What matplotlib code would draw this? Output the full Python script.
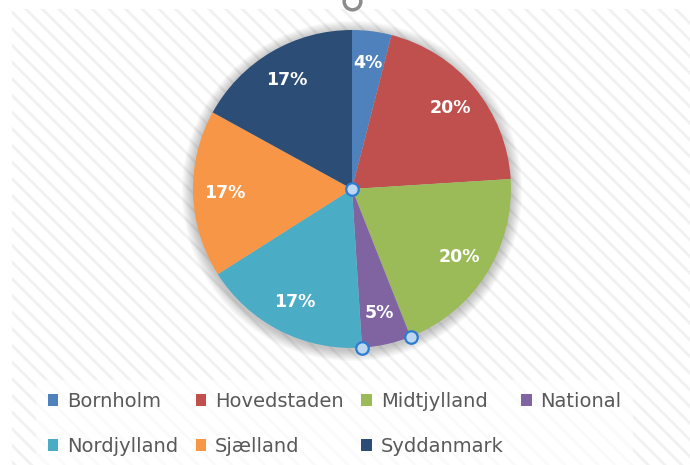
import matplotlib
matplotlib.use('Agg')
import matplotlib.pyplot as plt
from matplotlib.patches import Rectangle, Circle
import numpy as np

regions = ['Bornholm', 'Hovedstaden', 'Midtjylland', 'National',
           'Nordjylland', 'Sjælland', 'Syddanmark']
shares = [4, 20, 20, 5, 17, 17, 17]
colors = ['#4F81BD', '#C0504D', '#9BBB59', '#8064A2',
          '#4BACC6', '#F79646', '#2C4D75']

plt.rcParams['font.family'] = ['DejaVu Sans']
plt.rcParams['hatch.linewidth'] = 2.0

W, H = 690, 465
fig = plt.figure(figsize=(W / 100, H / 100), dpi=100)
fig.patch.set_facecolor('white')

# chart-area background with diagonal stripes
fig.patches.append(Rectangle((12 / W, 0), 1 - 12 / W, 1 - 9 / H,
                             transform=fig.transFigure, facecolor='white',
                             edgecolor='#F1F1F1', hatch='\\\\', lw=0, zorder=-5))

# pie axes: center (352,189) px, radius 159 px
cx, cy, R = 352, 189, 159
ax = fig.add_axes([(cx - R) / W, (H - cy - R) / H, 2 * R / W, 2 * R / H])
ax.set_zorder(1)

# soft shadow
for i in range(10):
    ax.add_patch(Circle((0.0, -0.012), 1.0 + 0.007 * (i + 1), facecolor='#000000',
                        alpha=0.025, lw=0, clip_on=False, zorder=0))

wedges, texts, autotexts = ax.pie(
    shares, colors=colors, startangle=90, counterclock=False,
    autopct=lambda p: f'{p:.0f}%', pctdistance=0.8,
    wedgeprops=dict(linewidth=0),
    textprops=dict(color='white', fontsize=12.5, fontweight='bold'))
for w in wedges:
    w.set_zorder(2)
for t in autotexts:
    t.set_zorder(3)
ax.set_xlim(-1, 1)
ax.set_ylim(-1, 1)
ax.set_aspect('equal')
ax.axis('off')

# selection handles (center and arc ends of the National slice)
cum = np.cumsum([0] + shares)
k = regions.index('National')
angs = np.deg2rad(90 - 360 * cum[[k, k + 1]] / cum[-1])
hx = np.concatenate([[0.0], np.cos(angs)])
hy = np.concatenate([[0.0], np.sin(angs)])
ax.plot(hx, hy, ls='none', marker='o', ms=9, mfc='#BDD7EE', mec='#2E7BD3',
        mew=1.6, clip_on=False, zorder=5)
# rotate handle at top
ax.plot([0], [(cy - 1) / R], ls='none', marker='o', ms=12, mfc='white',
        mec='#8C8C8C', mew=2.5, clip_on=False, zorder=5)

# legend in row-major order over 4 columns
order = [0, 4, 1, 5, 2, 6, 3]
leg = fig.legend([wedges[i] for i in order], [regions[i] for i in order],
                 ncol=4, loc='upper left', bbox_to_anchor=(36 / W, 1 - 380 / H),
                 bbox_transform=fig.transFigure, frameon=True, fontsize=14,
                 handlelength=0.55, handleheight=0.55, handletextpad=0.45,
                 columnspacing=0.9, labelspacing=1.35, borderpad=0.6,
                 borderaxespad=0)
leg.set_zorder(2)
leg.get_frame().set_facecolor('white')
leg.get_frame().set_alpha(0.65)
leg.get_frame().set_edgecolor('none')
for t in leg.get_texts():
    t.set_color('#595959')

fig.savefig('out.png', dpi=100)
